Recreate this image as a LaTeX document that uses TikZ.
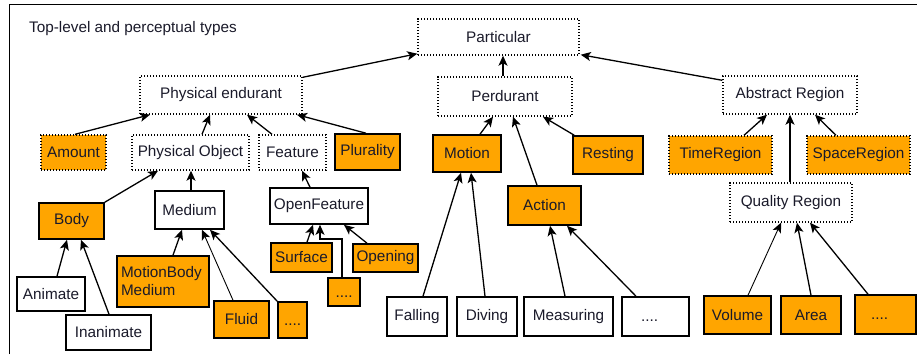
\documentclass[tikz,border=0pt]{standalone}
\usepackage{fontspec}
\setmainfont{Liberation Sans}
\usetikzlibrary{arrows.meta,calc}
\definecolor{myorange}{HTML}{FFA500}
\definecolor{txt}{HTML}{1A1A2A}
\tikzset{sz/.style 2 args={minimum width=#1pt,minimum height=#2pt}}
\newcommand{\lowdots}{\raisebox{-5pt}[0pt][0pt]{....}}
\begin{document}
\begin{tikzpicture}[x=1pt,y=-1pt,
  base/.style={rectangle,inner sep=0pt,font=\fontsize{15.3}{18}\selectfont,text=txt},
  plainbox/.style={base,draw,line width=1.6pt,fill=white},
  orbox/.style={base,draw,line width=1.6pt,fill=myorange},
  dotbox/.style={base,draw,line width=1.4pt,dash pattern=on 1.4pt off 1.6pt,fill=white},
  dotorbox/.style={dotbox,fill=myorange},
  arr/.style={-{Stealth[length=10pt,width=9pt,inset=2.5pt]},line width=1.3pt},
  thinarr/.style={arr,line width=0.9pt}]
\useasboundingbox (0,0) rectangle (917,354);
\fill[white] (0,0) rectangle (917,354);
\draw[line width=1.5pt] (9.5,354) -- (9.5,4.5) -- (917,4.5);
\node[base,anchor=west] (title) at (29,29) {Top-level and perceptual types};
% top levels
\node[dotbox,sz={161}{36}] (part) at (498.5,37) {Particular};
\node[dotbox,sz={162}{38}] (pe) at (221,95) {Physical endurant};
\node[dotbox,sz={134}{39}] (perd) at (505,96.5) {Perdurant};
\node[dotbox,sz={134}{38}] (ar) at (790,95) {Abstract Region};
% second row
\node[dotorbox,sz={65}{35}] (amount) at (73.5,152.5) {Amount};
\node[dotbox,sz={117}{35}] (po) at (190.5,152.5) {Physical Object};
\node[dotbox,sz={67}{35}] (feat) at (292.5,152.5) {Feature};
\node[orbox,sz={65}{36}] (plur) at (367.5,152) {Plurality};
\node[orbox,sz={68}{37}] (motion) at (467,153.5) {Motion};
\node[orbox,sz={70}{38}] (resting) at (608,155) {Resting};
\node[dotorbox,sz={103}{38}] (time) at (720.5,155) {TimeRegion};
\node[dotorbox,sz={103}{38}] (space) at (858.5,155) {SpaceRegion};
% third row
\node[orbox,sz={65}{36}] (body) at (71.5,221) {Body};
\node[plainbox,sz={69}{38}] (medium) at (189.5,210) {Medium};
\node[plainbox,sz={98}{36}] (of) at (319,206) {OpenFeature};
\node[orbox,sz={73}{39}] (action) at (544.5,205.5) {Action};
\node[dotbox,sz={122}{39}] (qr) at (791,202.5) {Quality Region};
\node[orbox,sz={61}{29}] (surface) at (301.5,257.5) {Surface};
\node[orbox,sz={65}{28}] (opening) at (385.5,258) {Opening};
\node[orbox,sz={32}{28}] (ofdots) at (344,292) {\lowdots};
% bottom
\node[plainbox,sz={68}{34}] (animate) at (51,294) {Animate};
\node[plainbox,sz={85}{35}] (inanimate) at (108.5,332.5) {Inanimate};
\node[orbox,sz={92}{51},align=left,text width=84pt] (mbm) at (163,281.5) {MotionBody\\Medium};
\node[orbox,sz={55}{37}] (fluid) at (241.5,319.5) {Fluid};
\node[orbox,sz={29}{36}] (meddots) at (292.5,320) {\lowdots};
\node[plainbox,sz={60}{39}] (falling) at (417,316.5) {Falling};
\node[plainbox,sz={60}{39}] (diving) at (487,316.5) {Diving};
\node[plainbox,sz={89}{39}] (measuring) at (568.5,316.5) {Measuring};
\node[plainbox,sz={67}{39}] (actdots) at (655.5,316.5) {\hspace*{-12pt}\lowdots};
\node[orbox,sz={67}{38}] (volume) at (737.5,315) {Volume};
\node[orbox,sz={60}{38}] (area) at (811,315) {Area};
\node[orbox,sz={61}{39}] (qrdots) at (885.5,314.5) {\hspace*{-12pt}\lowdots};
\coordinate (ofbend) at (320,239);
% connectors
\draw[arr] ([yshift=-2pt]pe.north east) -- ([yshift=2pt]part.south west);
\draw[arr] ([yshift=-5pt]ar.north west) -- ([xshift=1pt,yshift=1pt]part.south east);
\draw[arr] ([xshift=-2pt]perd.north) -- ([xshift=-2pt]perd.north |- part.south);
\draw[arr] ([xshift=1.5pt]amount.north) -- ([xshift=-71pt]pe.south);
\draw[arr] ([xshift=11.5pt]po.north) -- ([xshift=-11pt]pe.south);
\draw[arr] ([xshift=-20.5pt]feat.north) -- ([xshift=26pt]pe.south);
\draw[arr] ([xshift=-1.5pt]plur.north) -- ([xshift=76pt]pe.south);
\draw[arr] (body.north east) -- ([xshift=-32.5pt]po.south);
\draw[arr] ([xshift=1.5pt]medium.north) -- ([xshift=1.5pt]medium.north |- po.south);
\draw[arr] ([xshift=-9pt]of.north) -- ([xshift=9.5pt]feat.south);
\draw[arr] ([xshift=13pt]motion.north) -- ([xshift=-12pt]perd.south);
\draw[arr] ([xshift=-7.5pt]action.north) -- ([xshift=8pt]perd.south);
\draw[arr] ([xshift=2pt]resting.north west) -- ([xshift=38pt]perd.south);
\draw[arr] ([xshift=23.5pt]time.north) -- ([xshift=-23pt]ar.south);
\draw[arr] ([xshift=-1pt]qr.north) -- ([xshift=-1pt]qr.north |- ar.south);
\draw[arr] ([xshift=-22.5pt]space.north) -- ([xshift=25pt]ar.south);
\draw[arr] ([xshift=6pt]animate.north) -- ([xshift=-4.5pt]body.south);
\draw[arr] ([xshift=0.5pt]inanimate.north) -- ([xshift=9.5pt]body.south);
\draw[arr] ([xshift=10pt]mbm.north) -- ([xshift=-7.5pt]medium.south);
\draw[thinarr] ([xshift=-8.5pt]fluid.north) -- ([xshift=12.5pt]medium.south);
\draw[arr] (meddots.north west) -- ([xshift=20.5pt]medium.south);
\draw[arr] ([xshift=5.5pt]surface.north) -- ([xshift=-6pt]of.south);
\draw[arr] ([xshift=-2pt]ofdots.north) |- (ofbend) -- (ofbend |- of.south);
\draw[arr] ([xshift=-18.5pt]opening.north) -- ([xshift=25pt]of.south);
\draw[arr] ([xshift=6pt]falling.north) -- ([xshift=-6pt]motion.south);
\draw[arr] ([xshift=-2pt]diving.north) -- ([xshift=4pt]motion.south);
\draw[arr] ([xshift=-3.5pt]measuring.north) -- ([xshift=5.5pt]action.south);
\draw[arr] ([xshift=-19.5pt]actdots.north) -- ([xshift=22.5pt]action.south);
\draw[thinarr] ([xshift=10.5pt]volume.north) -- ([xshift=-10pt]qr.south);
\draw[arr] (area.north) -- ([xshift=6pt]qr.south);
\draw[arr] ([xshift=-17.5pt]qrdots.north) -- ([xshift=19pt]qr.south);
\end{tikzpicture}
\end{document}
